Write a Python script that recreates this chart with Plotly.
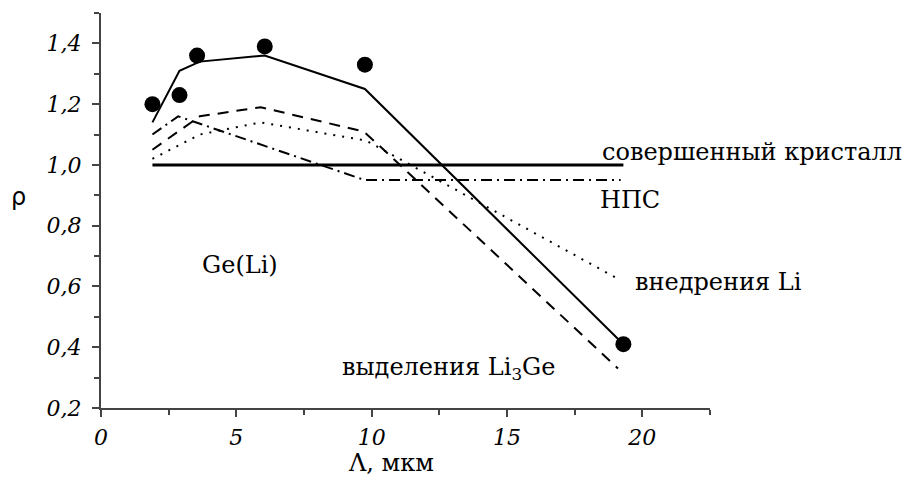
import plotly.graph_objects as go

# measured points
pts_x = [1.9, 2.9, 3.55, 6.05, 9.75, 19.3]
pts_y = [1.20, 1.23, 1.36, 1.39, 1.33, 0.41]

# theory curves
solid_x = [1.9, 2.9, 3.65, 6.05, 9.75, 19.3]
solid_y = [1.14, 1.31, 1.34, 1.36, 1.25, 0.41]

perfect_x = [1.9, 19.3]
perfect_y = [1.0, 1.0]

nps_x = [1.9, 2.85, 9.75, 19.2]
nps_y = [1.10, 1.16, 0.95, 0.95]

interst_x = [1.9, 3.65, 5.9, 9.8, 19.0]
interst_y = [1.02, 1.10, 1.14, 1.08, 0.63]

precip_x = [1.9, 3.65, 5.9, 9.7, 10.2, 19.1]
precip_y = [1.05, 1.16, 1.19, 1.11, 1.07, 0.33]

x_ticks = [0, 5, 10, 15, 20]
y_ticks = [0.2, 0.4, 0.6, 0.8, 1.0, 1.2, 1.4]

fig = go.Figure()
black = "#000000"
fig.add_trace(go.Scatter(x=perfect_x, y=perfect_y, mode="lines",
                         line=dict(color=black, width=3)))
fig.add_trace(go.Scatter(x=nps_x, y=nps_y, mode="lines",
                         line=dict(color=black, width=2, dash="11px,5px,2px,5px")))
fig.add_trace(go.Scatter(x=interst_x, y=interst_y, mode="lines",
                         line=dict(color=black, width=2, dash="2px,7px")))
fig.add_trace(go.Scatter(x=precip_x, y=precip_y, mode="lines",
                         line=dict(color=black, width=2, dash="11px,8px")))
fig.add_trace(go.Scatter(x=solid_x, y=solid_y, mode="lines",
                         line=dict(color=black, width=2)))
fig.add_trace(go.Scatter(x=pts_x, y=pts_y, mode="markers",
                         marker=dict(color="#000000", size=16)))

tickfont = dict(family="DejaVu Serif", size=22, color="#000000", style="italic")
axcol = "#444444"
fig.update_xaxes(range=[0, 22.5], tickvals=x_ticks, ticks="outside", ticklen=7,
                 tickwidth=2, tickcolor=axcol, showline=True, linecolor=axcol,
                 linewidth=2, showgrid=False, zeroline=False, tickfont=tickfont,
                 ticklabelstandoff=2,
                 minor=dict(dtick=2.5, tick0=0, ticks="outside", ticklen=5,
                            tickwidth=2, tickcolor=axcol, showgrid=False))
fig.update_yaxes(range=[0.2, 1.5], tickvals=y_ticks, tickformat=".1f",
                 ticks="outside", ticklen=7, tickwidth=2, tickcolor=axcol,
                 showline=True, linecolor=axcol, linewidth=2, showgrid=False,
                 zeroline=False, tickfont=tickfont, ticklabelstandoff=6,
                 minor=dict(dtick=0.2, tick0=0.3, ticks="outside", ticklen=5,
                            tickwidth=2, tickcolor=axcol, showgrid=False))

tf = dict(family="DejaVu Serif", size=24, color="#000000")
anns = [
    ("совершенный кристалл", 18.43, 1.042),
    ("НПС", 18.36, 0.884),
    ("внедрения Li", 19.65, 0.614),
    ("выделения Li<sub>3</sub>Ge", 8.83, 0.331),
    ("Ge(Li)", 3.66, 0.672),
]
for t, ax_, ay_ in anns:
    fig.add_annotation(text=t, x=ax_, y=ay_, xref="x", yref="y", xanchor="left",
                       yanchor="middle", showarrow=False, font=tf)

fig.add_annotation(text="ρ", x=-0.136, y=0.534, xref="paper", yref="paper",
                   xanchor="center", yanchor="middle",
                   showarrow=False, font=dict(family="DejaVu Sans", size=24, color="#000000"))
fig.add_annotation(text="Λ, мкм", x=0.476, y=-0.181, xref="paper", yref="paper",
                   xanchor="center", yanchor="bottom",
                   showarrow=False, font=tf)

fig.update_layout(width=905, height=481, margin=dict(l=101, r=195, t=13, b=73),
                  paper_bgcolor="white", plot_bgcolor="white", showlegend=False,
                  separators=",.")
fig.write_html("out.html")
